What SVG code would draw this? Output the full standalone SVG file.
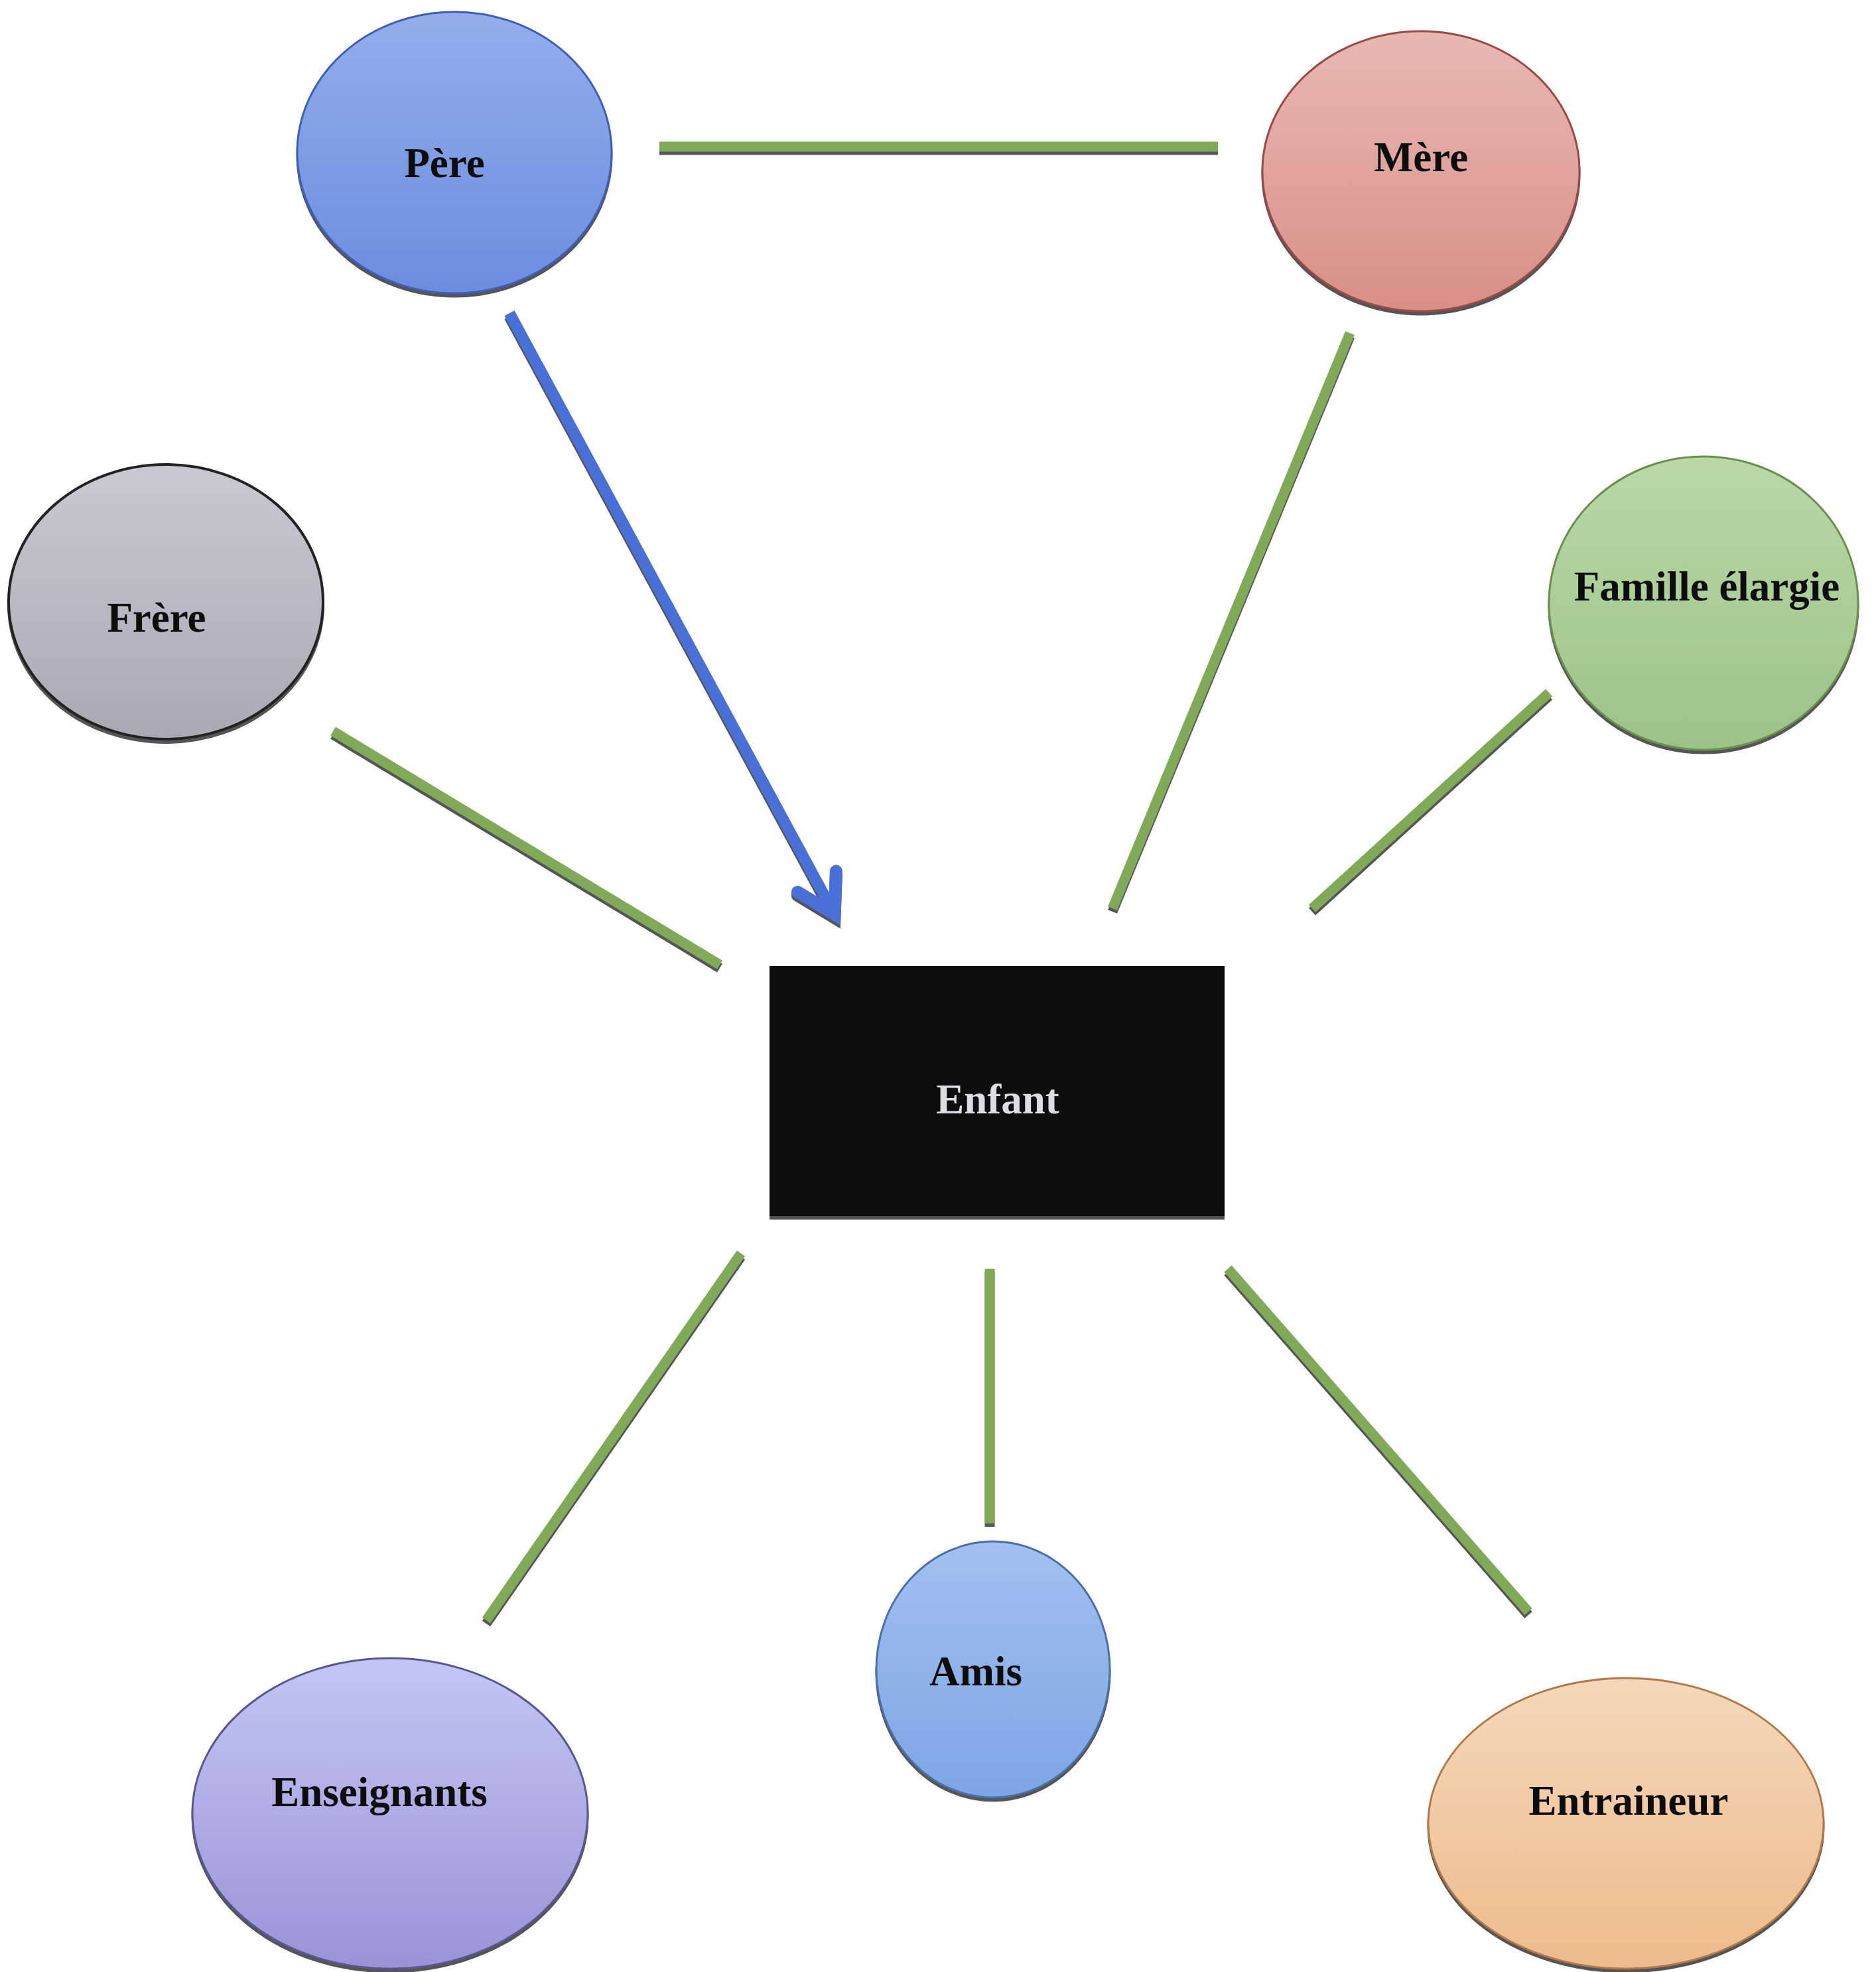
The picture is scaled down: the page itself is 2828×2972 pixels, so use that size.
<svg xmlns="http://www.w3.org/2000/svg" width="2828" height="2972" viewBox="0 0 2828 2972">
  <style>
    .lbl { font-family: "Liberation Serif", "Times New Roman", serif; font-weight: bold; font-size: 63px; text-anchor: middle; fill: #111; }
    .conn { stroke: #80aa58; stroke-width: 15; fill: none; stroke-linecap: butt; }
    .arrow { stroke: #4a6fd6; stroke-width: 17; fill: none; }
  </style>
  <defs>
    <filter id="shadow" x="-10%" y="-10%" width="120%" height="120%">
      <feFlood flood-color="#555" result="c"/>
      <feComposite in="c" in2="SourceAlpha" operator="in" result="s"/>
      <feOffset in="s" dx="0" dy="5" result="o"/>
      <feMerge><feMergeNode in="o"/><feMergeNode in="SourceGraphic"/></feMerge>
    </filter>
    <linearGradient id="gPere" x1="0" y1="0" x2="0" y2="1"><stop offset="0" stop-color="#93aeea"/><stop offset="1" stop-color="#6c8ddf"/></linearGradient>
    <linearGradient id="gMere" x1="0" y1="0" x2="0" y2="1"><stop offset="0" stop-color="#e9b8b3"/><stop offset="1" stop-color="#d78f87"/></linearGradient>
    <linearGradient id="gFrere" x1="0" y1="0" x2="0" y2="1"><stop offset="0" stop-color="#cac8d0"/><stop offset="1" stop-color="#aaa8b3"/></linearGradient>
    <linearGradient id="gFam" x1="0" y1="0" x2="0" y2="1"><stop offset="0" stop-color="#bad8a8"/><stop offset="1" stop-color="#9cc387"/></linearGradient>
    <linearGradient id="gEns" x1="0" y1="0" x2="0" y2="1"><stop offset="0" stop-color="#c2c6f4"/><stop offset="1" stop-color="#9a93d6"/></linearGradient>
    <linearGradient id="gAmis" x1="0" y1="0" x2="0" y2="1"><stop offset="0" stop-color="#a3c0f0"/><stop offset="1" stop-color="#7ea5e4"/></linearGradient>
    <linearGradient id="gEntr" x1="0" y1="0" x2="0" y2="1"><stop offset="0" stop-color="#f5d8ba"/><stop offset="1" stop-color="#edbb8c"/></linearGradient>
    <marker id="chev" markerUnits="userSpaceOnUse" viewBox="-80 -60 100 120" markerWidth="100" markerHeight="120" refX="0" refY="0" orient="auto">
      <path d="M-56,-33 L0,0 L-56,33" stroke="#4a6fd6" stroke-width="19" fill="none" stroke-linejoin="miter" stroke-linecap="round"/>
    </marker>
  </defs>
  <rect width="2828" height="2972" fill="#ffffff"/>

  <g id="connectors" filter="url(#shadow)">
    <line class="conn" x1="994" y1="221" x2="1836" y2="221"/>
    <line class="conn" x1="2035" y1="502" x2="1677" y2="1369"/>
    <line class="conn" x1="502" y1="1102" x2="1085" y2="1454"/>
    <line class="conn" x1="2335" y1="1044" x2="1978" y2="1369"/>
    <line class="conn" x1="1117" y1="1889" x2="733" y2="2442"/>
    <line class="conn" x1="1492" y1="1912" x2="1492" y2="2296"/>
    <line class="conn" x1="1851" y1="1912" x2="2304" y2="2429"/>
    <line class="arrow" x1="768" y1="472" x2="1258" y2="1378" marker-end="url(#chev)"/>
  </g>

  <g id="pere" filter="url(#shadow)">
    <ellipse cx="685" cy="230" rx="237" ry="212" fill="url(#gPere)" stroke="#3e5fb8" stroke-width="3"/>
    <text class="lbl" x="670" y="267">Père</text>
  </g>
  <g id="mere" filter="url(#shadow)">
    <ellipse cx="2142" cy="258" rx="239" ry="211" fill="url(#gMere)" stroke="#9a4a45" stroke-width="3"/>
    <text class="lbl" x="2142" y="258">Mère</text>
  </g>
  <g id="frere" filter="url(#shadow)">
    <ellipse cx="250" cy="907" rx="237" ry="207" fill="url(#gFrere)" stroke="#222" stroke-width="4"/>
    <text class="lbl" x="236" y="952">Frère</text>
  </g>
  <g id="famille" filter="url(#shadow)">
    <ellipse cx="2568" cy="909" rx="233" ry="221" fill="url(#gFam)" stroke="#6a8f50" stroke-width="3"/>
    <text class="lbl" x="2573" y="905">Famille élargie</text>
  </g>
  <g id="enfant" filter="url(#shadow)">
    <rect x="1160" y="1456" width="686" height="377" fill="#0d0d0d"/>
    <text class="lbl" x="1504" y="1678" style="fill:#dedee2">Enfant</text>
  </g>
  <g id="enseignants" filter="url(#shadow)">
    <ellipse cx="588" cy="2733" rx="298" ry="234" fill="url(#gEns)" stroke="#5a5690" stroke-width="3"/>
    <text class="lbl" x="572" y="2722">Enseignants</text>
  </g>
  <g id="amis" filter="url(#shadow)">
    <ellipse cx="1497" cy="2516" rx="176" ry="193" fill="url(#gAmis)" stroke="#4a70a8" stroke-width="3"/>
    <text class="lbl" x="1471" y="2540">Amis</text>
  </g>
  <g id="entraineur" filter="url(#shadow)">
    <ellipse cx="2451" cy="2748" rx="298" ry="219" fill="url(#gEntr)" stroke="#b07a4a" stroke-width="3"/>
    <text class="lbl" x="2455" y="2735">Entraineur</text>
  </g>
</svg>
